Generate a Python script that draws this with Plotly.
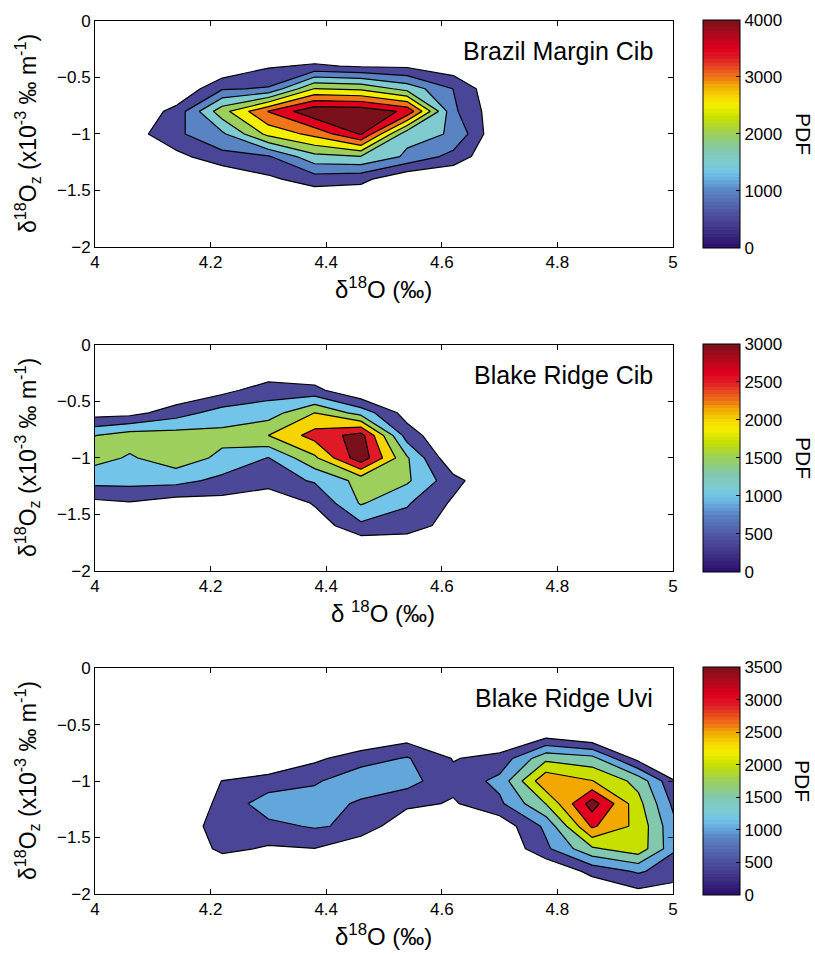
import plotly.graph_objects as go

# ---------------- data (PDF values on a coarse grid) ----------------
x_grid = [3.98, 4.06, 4.14, 4.22, 4.30, 4.38, 4.46, 4.54, 4.62, 4.70, 4.78, 4.86, 4.94, 5.02]
y_grid = [-2.0, -1.8, -1.6, -1.4, -1.2, -1.0, -0.8, -0.6, -0.4, -0.2, 0.0]

brazil_margin_cib = [
    [0, 0, 0, 0, 0, 0, 0, 0, 0, 0, 0, 0, 0, 0],
    [0, 0, 0, 0, 0, 0, 0, 0, 0, 0, 0, 0, 0, 0],
    [0, 0, 0, 0, 0, 0, 0, 0, 0, 0, 0, 0, 0, 0],
    [0, 0, 0, 0, 400, 750, 650, 50, 0, 0, 0, 0, 0, 0],
    [0, 0, 340, 840, 950, 1850, 1980, 1410, 820, 0, 0, 0, 0, 0],
    [0, 230, 900, 1400, 2650, 3150, 4050, 1650, 1460, 0, 0, 0, 0, 0],
    [0, 40, 670, 2310, 3520, 4400, 4350, 3900, 1100, 120, 0, 0, 0, 0],
    [0, 0, 0, 950, 1050, 2520, 2400, 1820, 990, 0, 0, 0, 0, 0],
    [0, 0, 0, 0, 450, 560, 450, 420, 150, 0, 0, 0, 0, 0],
    [0, 0, 0, 0, 0, 0, 0, 0, 0, 0, 0, 0, 0, 0],
    [0, 0, 0, 0, 0, 0, 0, 0, 0, 0, 0, 0, 0, 0],
]

blake_ridge_cib = [
    [0, 0, 0, 0, 0, 0, 0, 0, 0, 0, 0, 0, 0, 0],
    [0, 0, 0, 0, 0, 0, 0, 0, 0, 0, 0, 0, 0, 0],
    [0, 0, 0, 0, 0, 200, 880, 780, 260, 0, 0, 0, 0, 0],
    [330, 460, 250, 310, 0, 550, 1550, 1050, 420, 0, 0, 0, 0, 0],
    [1180, 1185, 1170, 860, 780, 1050, 1670, 1580, 670, 0, 0, 0, 0, 0],
    [1780, 1440, 1780, 1385, 980, 1900, 3330, 1560, 50, 0, 0, 0, 0, 0],
    [1400, 1745, 1725, 1645, 2000, 2700, 3200, 750, 0, 0, 0, 0, 0, 0],
    [255, 315, 770, 1225, 1250, 2000, 1300, 285, 0, 0, 0, 0, 0, 0],
    [0, 0, 0, 330, 790, 650, 0, 0, 0, 0, 0, 0, 0, 0],
    [0, 0, 0, 0, 0, 0, 0, 0, 0, 0, 0, 0, 0, 0],
    [0, 0, 0, 0, 0, 0, 0, 0, 0, 0, 0, 0, 0, 0],
]

blake_ridge_uvi = [
    [0, 0, 0, 0, 0, 0, 0, 0, 0, 0, 0, 0, 326, 290],
    [0, 0, 0, 0, 0, 0, 0, 0, 0, 0, 0, 650, 1067, 640],
    [0, 0, 0, 633, 435, 490, 0, 0, 0, 0, 893, 1908, 2302, 830],
    [0, 0, 0, 850, 868, 1050, 900, 0, 0, 158, 1107, 3080, 2350, 750],
    [0, 0, 0, 643, 1280, 1300, 905, 650, 445, 894, 2010, 3750, 2167, 480],
    [0, 0, 0, 510, 709, 925, 1379, 1180, 650, 1150, 2900, 2520, 1833, 190],
    [0, 0, 0, 0, 0, 397, 763, 1044, 473, 662, 1870, 1680, 318, 0],
    [0, 0, 0, 0, 0, 0, 0, 250, 0, 0, 350, 0, 0, 0],
    [0, 0, 0, 0, 0, 0, 0, 0, 0, 0, 0, 0, 0, 0],
    [0, 0, 0, 0, 0, 0, 0, 0, 0, 0, 0, 0, 0, 0],
    [0, 0, 0, 0, 0, 0, 0, 0, 0, 0, 0, 0, 0, 0],
]

panel_titles = ["Brazil Margin Cib", "Blake Ridge Cib", "Blake Ridge Uvi"]
pdf_max = [4000, 3000, 3500]
level_step = 500
cbar_dtick = [1000, 500, 500]
x_ticks = [4, 4.2, 4.4, 4.6, 4.8, 5]
y_ticks = [0, -0.5, -1, -1.5, -2]

# ---------------- styling ----------------
FONT = "Liberation Sans, Arial, Helvetica, sans-serif"
W, H = 815, 956
ML, MR, MT, MB = 95, 142, 13, 62
PH = H - MT - MB  # plot-area height in px
panel_px = [(13, 241), (340, 568), (666, 894)]  # top/bottom px of each panel

band_colors = [
    ["#4a4697", "#5a83c3", "#7fcbd0", "#9ccf5b", "#f4ef00", "#f07418", "#e0001e", "#7a111a"],
    ["#4b4898", "#72c5e8", "#9ccf5b", "#f5d400", "#e01a25", "#7a111a"],
    ["#4a4596", "#63a6dc", "#82c8ac", "#c8e000", "#f2a800", "#e2001f", "#7a111a"],
]

cmap_anchors = [
    [0.0, "#2c0f6c"], [0.125, "#4a4697"], [0.25, "#5a83c3"], [0.29, "#63a6dc"],
    [0.333, "#72c5e8"], [0.375, "#7fcbd0"], [0.43, "#82c8ac"], [0.5, "#9ccf5b"],
    [0.57, "#c8e000"], [0.625, "#f4ef00"], [0.667, "#f5d400"], [0.714, "#f2a800"],
    [0.75, "#f07418"], [0.833, "#e01a25"], [0.875, "#e0001e"], [1.0, "#7a111a"],
]


def _hex(c):
    return [int(c[k:k + 2], 16) for k in (1, 3, 5)]


def _cmap(t):
    for (t0, c0), (t1, c1) in zip(cmap_anchors[:-1], cmap_anchors[1:]):
        if t <= t1:
            f = (t - t0) / (t1 - t0)
            a, b = _hex(c0), _hex(c1)
            return "rgb(%d,%d,%d)" % tuple(round(a[j] + f * (b[j] - a[j])) for j in range(3))
    return cmap_anchors[-1][1]


# 64-step banded colour bar, like the MATLAB colormap of the original
NSTEP = 64
cbar_scale = []
for k in range(NSTEP):
    col = _cmap((k + 0.5) / NSTEP)
    cbar_scale.append([k / NSTEP, col])
    cbar_scale.append([(k + 1) / NSTEP, col])


def py(px):
    return (H - MB - px) / PH


def px_x(px):
    return (px - ML) / (W - ML - MR)


fig = go.Figure()
datasets = [brazil_margin_cib, blake_ridge_cib, blake_ridge_uvi]

for i, z in enumerate(datasets):
    sfx = "" if i == 0 else str(i + 1)
    nlev = pdf_max[i] // level_step
    cols = band_colors[i]
    cs = [[0.0, "white"]] + [[(k + 1) / nlev, cols[k]] for k in range(nlev)]
    fig.add_trace(go.Contour(
        x=x_grid, y=y_grid, z=z,
        xaxis="x" + sfx, yaxis="y" + sfx,
        autocontour=False,
        contours=dict(start=level_step, end=pdf_max[i], size=level_step, coloring="fill"),
        colorscale=cs, showscale=False,
        line=dict(color="black", width=1.2, smoothing=0),
        hoverinfo="skip",
    ))
    top, bot = panel_px[i]
    fig.add_trace(go.Scatter(
        x=[None], y=[None], mode="markers", xaxis="x" + sfx, yaxis="y" + sfx,
        showlegend=False, hoverinfo="skip",
        marker=dict(
            color=[0], cmin=0, cmax=pdf_max[i], colorscale=cbar_scale, showscale=True,
            colorbar=dict(
                thickness=37, thicknessmode="pixels",
                len=bot - top, lenmode="pixels",
                x=px_x(703), xanchor="left",
                y=py((top + bot) / 2), yanchor="middle",
                xpad=0, ypad=0, outlinecolor="black", outlinewidth=1,
                tickmode="linear", tick0=0, dtick=cbar_dtick[i],
                ticks="inside", ticklen=4, tickcolor="black",
                tickfont=dict(family=FONT, size=17, color="black"),
            ),
        ),
    ))

layout = dict(
    width=W, height=H,
    margin=dict(l=ML, r=MR, t=MT, b=MB),
    paper_bgcolor="white", plot_bgcolor="white",
    font=dict(family=FONT, color="black"),
    showlegend=False,
)
annotations = []
for i in range(3):
    sfx = "" if i == 0 else str(i + 1)
    top, bot = panel_px[i]
    layout["xaxis" + sfx] = dict(
        domain=[0, 1], anchor="y" + sfx, range=[4, 5],
        tickvals=x_ticks, ticktext=["4", "4.2", "4.4", "4.6", "4.8", "5"],
        ticks="inside", ticklen=5, tickcolor="black",
        showline=True, linecolor="black", linewidth=1, mirror="ticks",
        showgrid=False, zeroline=False,
        tickfont=dict(family=FONT, size=17, color="black"),
    )
    layout["yaxis" + sfx] = dict(
        domain=[py(bot), py(top)], anchor="x" + sfx, range=[-2, 0],
        tickvals=y_ticks, ticktext=["0", "\u22120.5", "\u22121", "\u22121.5", "\u22122"],
        ticks="inside", ticklen=5, tickcolor="black",
        showline=True, linecolor="black", linewidth=1, mirror="ticks",
        showgrid=False, zeroline=False,
        tickfont=dict(family=FONT, size=17, color="black"),
    )
    xt = "\u03b4<sup>18</sup>O (\u2030)" if i != 1 else "\u03b4 <sup>18</sup>O (\u2030)"
    annotations.append(dict(
        text=xt, xref="paper", yref="paper", x=px_x(383), y=py(bot + 41),
        xanchor="center", yanchor="middle", showarrow=False,
        font=dict(family=FONT, size=24, color="black"),
    ))
    annotations.append(dict(
        text="\u03b4<sup>18</sup>O<sub>z</sub> (x10<sup>-3</sup> \u2030 m<sup>-1</sup>)",
        xref="paper", yref="paper", x=px_x(27), y=py((top + bot) / 2),
        xanchor="center", yanchor="middle", textangle=-90, showarrow=False,
        font=dict(family=FONT, size=23, color="black"),
    ))
    annotations.append(dict(
        text=panel_titles[i], xref="paper", yref="paper",
        x=px_x(655), y=py(top + 30),
        xanchor="right", yanchor="middle", showarrow=False,
        font=dict(family=FONT, size=25, color="black"),
    ))
    annotations.append(dict(
        text="PDF", xref="paper", yref="paper",
        x=px_x(803), y=py((top + bot) / 2),
        xanchor="center", yanchor="middle", textangle=90, showarrow=False,
        font=dict(family=FONT, size=21, color="black"),
    ))
layout["annotations"] = annotations
fig.update_layout(**layout)

fig.write_html(
    "out.html",
    config={"displayModeBar": False},
    post_script="document.body.style.margin='0';document.body.style.padding='0';"
                "document.documentElement.style.overflow='hidden';",
)
